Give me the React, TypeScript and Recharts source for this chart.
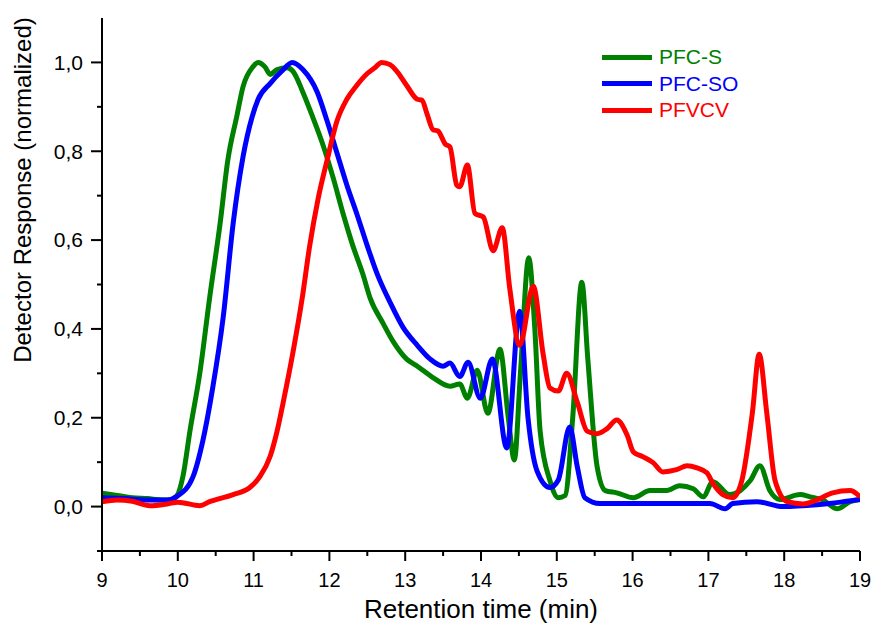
import React from 'react';
import { LineChart, Line, XAxis, YAxis, Legend } from 'recharts';

interface Pt {
  t: number;
  y: number;
}

const FONT = '"Liberation Sans", Arial, sans-serif';

// [retention time (min), normalized response]
const pfcS: Array<[number, number]> = [
  [9.0, 0.03], [9.2, 0.025], [9.4, 0.02], [9.6, 0.018], [9.8, 0.015], [9.9, 0.015],
  [9.99, 0.025], [10.07, 0.07], [10.16, 0.17], [10.29, 0.3], [10.42, 0.47],
  [10.56, 0.64], [10.66, 0.78], [10.78, 0.88], [10.86, 0.945], [10.99, 0.99],
  [11.06, 1.0], [11.15, 0.99], [11.22, 0.973], [11.31, 0.984], [11.44, 0.988],
  [11.52, 0.98], [11.65, 0.933], [11.78, 0.877], [11.92, 0.812], [12.05, 0.74],
  [12.18, 0.66], [12.31, 0.587], [12.44, 0.524], [12.54, 0.468], [12.71, 0.412],
  [12.84, 0.372], [13.02, 0.332], [13.16, 0.316], [13.37, 0.29], [13.59, 0.271],
  [13.72, 0.276], [13.82, 0.244], [13.95, 0.307], [14.09, 0.21], [14.25, 0.354],
  [14.36, 0.2], [14.44, 0.105], [14.52, 0.3], [14.63, 0.56], [14.71, 0.4],
  [14.78, 0.17], [14.91, 0.058], [15.02, 0.02], [15.11, 0.025], [15.21, 0.2],
  [15.33, 0.505], [15.41, 0.33], [15.53, 0.092], [15.64, 0.036], [15.79, 0.031],
  [16.01, 0.02], [16.23, 0.036], [16.45, 0.036], [16.62, 0.047], [16.8, 0.04],
  [16.93, 0.022], [17.06, 0.056], [17.28, 0.027], [17.42, 0.036], [17.55, 0.058],
  [17.68, 0.092], [17.81, 0.036], [17.94, 0.016], [18.21, 0.027], [18.34, 0.022],
  [18.51, 0.015], [18.7, -0.005], [18.87, 0.011], [19.0, 0.016],
];

const pfcSO: Array<[number, number]> = [
  [9.0, 0.02], [9.3, 0.018], [9.6, 0.015], [9.86, 0.015], [9.99, 0.023],
  [10.2, 0.067], [10.33, 0.148], [10.46, 0.267], [10.6, 0.428], [10.73, 0.637],
  [10.86, 0.787], [10.98, 0.877], [11.06, 0.917], [11.22, 0.953], [11.37, 0.98],
  [11.51, 1.0], [11.65, 0.984], [11.84, 0.933], [11.97, 0.868], [12.1, 0.796],
  [12.23, 0.724], [12.36, 0.66], [12.5, 0.587], [12.63, 0.524], [12.8, 0.46],
  [12.97, 0.404], [13.16, 0.363], [13.33, 0.332], [13.5, 0.316], [13.59, 0.323],
  [13.72, 0.293], [13.83, 0.325], [13.99, 0.244], [14.15, 0.332], [14.34, 0.132],
  [14.51, 0.44], [14.62, 0.2], [14.74, 0.08], [14.91, 0.043], [15.02, 0.06],
  [15.17, 0.179], [15.27, 0.09], [15.37, 0.02], [15.57, 0.007], [16.0, 0.007],
  [16.45, 0.007], [17.02, 0.007], [17.22, -0.005], [17.32, 0.007], [17.64, 0.011],
  [17.98, 0.0], [18.43, 0.004], [19.0, 0.016],
];

const pfvcv: Array<[number, number]> = [
  [9.0, 0.011], [9.2, 0.015], [9.4, 0.012], [9.63, 0.002], [9.86, 0.006], [10.0, 0.01],
  [10.29, 0.002], [10.42, 0.011], [10.73, 0.027], [10.95, 0.043], [11.08, 0.067],
  [11.22, 0.114], [11.31, 0.17], [11.41, 0.251], [11.52, 0.348], [11.64, 0.468],
  [11.74, 0.587], [11.85, 0.692], [11.97, 0.78], [12.1, 0.868], [12.23, 0.917],
  [12.36, 0.948], [12.5, 0.975], [12.6, 0.988], [12.69, 1.0], [12.8, 0.995],
  [12.89, 0.98], [13.02, 0.948], [13.16, 0.917], [13.22, 0.915], [13.29, 0.883],
  [13.37, 0.848], [13.43, 0.846], [13.53, 0.816], [13.59, 0.81], [13.68, 0.724],
  [13.72, 0.72], [13.82, 0.769], [13.92, 0.66], [14.03, 0.652], [14.16, 0.576],
  [14.28, 0.628], [14.38, 0.49], [14.51, 0.363], [14.69, 0.496], [14.82, 0.343],
  [14.91, 0.267], [15.02, 0.26], [15.13, 0.3], [15.27, 0.235], [15.4, 0.17],
  [15.53, 0.164], [15.66, 0.175], [15.79, 0.195], [15.93, 0.16], [16.01, 0.123],
  [16.14, 0.112], [16.27, 0.099], [16.4, 0.078], [16.58, 0.083], [16.72, 0.092],
  [16.85, 0.087], [16.98, 0.076], [17.06, 0.052], [17.19, 0.027], [17.32, 0.02],
  [17.44, 0.058], [17.58, 0.211], [17.67, 0.343], [17.77, 0.211], [17.88, 0.058],
  [18.04, 0.011], [18.25, 0.006], [18.43, 0.015], [18.64, 0.031], [18.87, 0.036],
  [19.0, 0.022],
];

const xTicks = [9, 9.5, 10, 10.5, 11, 11.5, 12, 12.5, 13, 13.5, 14, 14.5, 15, 15.5, 16, 16.5, 17, 17.5, 18, 18.5, 19];
const yTicks = [-0.1, 0, 0.1, 0.2, 0.3, 0.4, 0.5, 0.6, 0.7, 0.8, 0.9, 1.0];

const toPts = (arr: Array<[number, number]>): Pt[] => arr.map(([t, y]) => ({ t, y }));

const XTick = (props: any) => {
  const { x, y, payload } = props;
  const v = payload.value;
  const major = Math.abs(v - Math.round(v)) < 1e-6;
  return (
    <g>
      <line x1={x} x2={x} y1={y} y2={y + (major ? 10 : 5)} stroke="#000" strokeWidth={2} />
      {major && (
        <text x={x} y={y + 29} dy="0.35em" textAnchor="middle" fontSize={20} fill="#000" fontFamily={FONT}>
          {v}
        </text>
      )}
    </g>
  );
};

const YTick = (props: any) => {
  const { x, y, payload } = props;
  const idx = Math.round(payload.value * 10);
  const major = idx % 2 === 0;
  return (
    <g>
      <line x1={x} x2={x - (major ? 11 : 5)} y1={y} y2={y} stroke="#000" strokeWidth={2} />
      {major && idx >= 0 && (
        <text x={x - 19} y={y} dy="0.35em" textAnchor="end" fontSize={21} fill="#000" fontFamily={FONT}>
          {(idx / 10).toFixed(1).replace('.', ',')}
        </text>
      )}
    </g>
  );
};

const renderLegend = (props: any) => {
  const { payload } = props;
  return (
    <div style={{ fontFamily: FONT }}>
      {(payload || []).map((p: any) => (
        <div key={p.value} style={{ display: 'flex', alignItems: 'center', height: 26.5 }}>
          <span style={{ display: 'inline-block', width: 50, height: 5, background: p.color, marginRight: 7 }} />
          <span style={{ color: p.color, fontSize: 21, lineHeight: '26px' }}>{p.value}</span>
        </div>
      ))}
    </div>
  );
};

export default function App(): JSX.Element {
  return (
    <div>
      <style>{'body { margin: 0; overflow: hidden; } .recharts-surface { overflow: visible; }'}</style>
      <LineChart
        width={876}
        height={631}
        margin={{ top: 18, right: 16, bottom: 0, left: 0 }}
        style={{ fontFamily: FONT }}
      >
        <XAxis
          dataKey="t"
          type="number"
          domain={[9, 19]}
          ticks={xTicks}
          interval={0}
          allowDataOverflow
          height={80}
          tickSize={0}
          tickMargin={0}
          tickLine={false}
          tick={<XTick />}
          axisLine={{ stroke: '#000', strokeWidth: 2 }}
          label={{
            content: (p: any) => {
              const vb = p.viewBox || { x: 102, y: 551, width: 758 };
              return (
                <text x={vb.x + vb.width / 2} y={vb.y + 58} dy="0.35em" textAnchor="middle" fontSize={26} fill="#000" fontFamily={FONT}>
                  Retention time (min)
                </text>
              );
            },
          }}
        />
        <YAxis
          type="number"
          domain={[-0.1, 1.1]}
          ticks={yTicks}
          interval={0}
          allowDataOverflow
          width={102}
          tickSize={0}
          tickMargin={0}
          tickLine={false}
          tick={<YTick />}
          axisLine={{ stroke: '#000', strokeWidth: 2 }}
          label={{
            content: (p: any) => {
              const vb = p.viewBox || { x: 0, y: 18 };
              const cx = vb.x + 23;
              const cy = vb.y + 172;
              return (
                <text x={cx} y={cy} dy="0.35em" textAnchor="middle" fontSize={24} fill="#000" fontFamily={FONT} transform={`rotate(-90 ${cx} ${cy})`}>
                  Detector Response (normalized)
                </text>
              );
            },
          }}
        />
        <Legend
          layout="vertical"
          align="center"
          verticalAlign="middle"
          content={renderLegend}
          wrapperStyle={{ position: 'absolute', left: 602, top: 44, width: 'auto', height: 'auto' }}
        />
        <Line data={toPts(pfcS)} dataKey="y" name="PFC-S" type="monotone" stroke="#008000" strokeWidth={5} strokeLinejoin="round" dot={false} activeDot={false} isAnimationActive={false} />
        <Line data={toPts(pfcSO)} dataKey="y" name="PFC-SO" type="monotone" stroke="#0000ff" strokeWidth={5} strokeLinejoin="round" dot={false} activeDot={false} isAnimationActive={false} />
        <Line data={toPts(pfvcv)} dataKey="y" name="PFVCV" type="monotone" stroke="#ff0000" strokeWidth={5} strokeLinejoin="round" dot={false} activeDot={false} isAnimationActive={false} />
      </LineChart>
    </div>
  );
}
